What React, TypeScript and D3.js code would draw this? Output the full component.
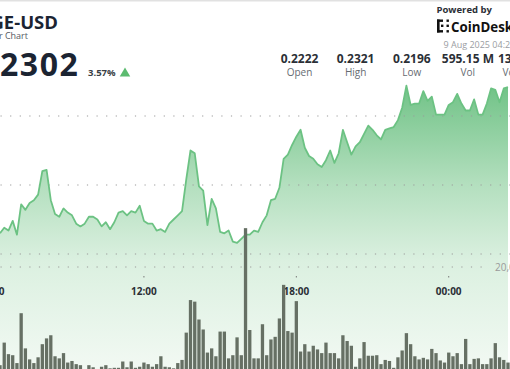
import * as d3 from 'd3';
import React, { useEffect, useRef } from 'react';

const WIDTH = 510;
const HEIGHT = 369;

// 10 minute candles, first visible one at 06:20 UTC
const startTime = Date.UTC(2025, 7, 8, 6, 20);
const stepMs = 10 * 60 * 1000;

const prices = [
  0.2215, 0.2219, 0.2217, 0.2224, 0.2214, 0.2236, 0.2232, 0.2237, 0.2239, 0.2243,
  0.226, 0.2261, 0.2239, 0.2229, 0.2227, 0.2233, 0.223, 0.2228, 0.2222, 0.222,
  0.2222, 0.2227, 0.2227, 0.2225, 0.222, 0.2223, 0.2218, 0.2223, 0.223, 0.2231,
  0.2228, 0.2231, 0.223, 0.2235, 0.2224, 0.2222, 0.2222, 0.2217, 0.2218, 0.2216,
  0.2222, 0.2225, 0.2228, 0.2231, 0.2254, 0.2275, 0.2273, 0.2249, 0.2246, 0.2221,
  0.224, 0.2233, 0.2216, 0.2215, 0.2217, 0.2209, 0.2208, 0.2211, 0.2214, 0.2214,
  0.2217, 0.2216, 0.2223, 0.2228, 0.2239, 0.224, 0.2248, 0.2269, 0.2272, 0.2279,
  0.2285, 0.229, 0.2277, 0.2271, 0.2269, 0.2265, 0.2263, 0.2268, 0.2275, 0.2266,
  0.2273, 0.229, 0.2281, 0.2272, 0.2278, 0.2281, 0.2287, 0.2293, 0.229, 0.2286,
  0.2283, 0.229, 0.2291, 0.2292, 0.2297, 0.2306, 0.2322, 0.2308, 0.2309, 0.2309,
  0.2318, 0.2311, 0.2314, 0.2301, 0.2301, 0.2301, 0.2308, 0.231, 0.2316, 0.2309,
  0.2304, 0.2304, 0.2312, 0.2301, 0.2301, 0.2309, 0.232, 0.2319, 0.231, 0.232,
  0.2321,
];

// volume per candle, millions of DOGE
const volumes = [
  1.3, 5.6, 3.4, 3.2, 1.7, 11.2, 4.5, 2.4, 1.7, 2.8,
  5.3, 6.4, 7.0, 3.0, 2.6, 3.6, 1.8, 2.1, 1.5, 1.3,
  0.3, 1.3, 0.9, 0.3, 1.0, 1.3, 0.7, 0.8, 0.8, 2.0,
  0.9, 2.0, 0.8, 1.0, 1.8, 1.5, 1.0, 1.5, 3.0, 1.0,
  0.9, 0.7, 1.7, 2.3, 7.5, 13.7, 13.4, 10.0, 8.1, 3.7,
  4.5, 3.0, 7.7, 7.7, 2.6, 3.2, 6.6, 3.2, 27.4, 8.0,
  2.6, 2.6, 9.1, 3.2, 6.2, 6.7, 10.2, 16.6, 7.8, 7.5,
  13.5, 3.9, 5.3, 3.9, 5.0, 4.3, 3.6, 5.6, 3.6, 3.6,
  2.6, 7.0, 5.9, 5.0, 1.0, 2.6, 5.7, 3.1, 3.1, 3.2,
  1.5, 2.3, 2.1, 0.8, 2.8, 4.1, 7.4, 5.3, 3.0, 2.4,
  2.7, 2.4, 4.4, 3.6, 2.2, 1.8, 3.7, 3.0, 3.6, 1.5,
  6.3, 1.5, 2.5, 2.6, 1.5, 1.5, 2.6, 5.5, 2.8, 2.3,
  1.8,
];

const priceGrid = [0.22, 0.225, 0.23];
const volumeGrid = [20];
const statValues = ['0.2222', '0.2321', '0.2196', '595.15 M', '132.44 M'];
const statLabels = ['Open', 'High', 'Low', 'Vol', 'Vol (USD)'];

const FONT = "'Open Sans', 'Noto Sans', sans-serif";

export default function App() {
  const svgRef = useRef<SVGSVGElement | null>(null);

  useEffect(() => {
    if (!svgRef.current) return;
    const svg = d3.select(svgRef.current);
    svg.selectAll('*').remove();

    const times = prices.map((_, i) => new Date(startTime + i * stepMs));

    const x = d3
      .scaleUtc()
      .domain([times[0], times[times.length - 1]])
      .range([0, 508]);
    const y = d3.scaleLinear().domain([0.22, 0.23]).range([254, 116]);
    const yVol = d3.scaleLinear().domain([0, 20]).range([372, 267]);

    svg.append('rect').attr('width', WIDTH).attr('height', HEIGHT).attr('fill', '#ffffff');

    const grad = svg
      .append('defs')
      .append('linearGradient')
      .attr('id', 'areaFill')
      .attr('gradientUnits', 'userSpaceOnUse')
      .attr('x1', 0)
      .attr('y1', 84)
      .attr('x2', 0)
      .attr('y2', HEIGHT);
    grad.append('stop').attr('offset', 0).attr('stop-color', '#70c286');
    grad.append('stop').attr('offset', 0.35).attr('stop-color', '#b3dfbe');
    grad.append('stop').attr('offset', 0.62).attr('stop-color', '#dbf0e0');
    grad.append('stop').attr('offset', 1).attr('stop-color', '#f2f9f3');

    // top border of the card
    svg.append('rect').attr('x', 0).attr('y', 0).attr('width', WIDTH).attr('height', 1.5).attr('fill', '#e1e1e1');

    const area = d3
      .area<number>()
      .x((_, i) => x(times[i]))
      .y0(HEIGHT + 5)
      .y1((d) => y(d));

    svg.append('path').datum(prices).attr('d', area).attr('fill', 'url(#areaFill)');

    // dotted grid
    svg
      .selectAll('line.pgrid')
      .data(priceGrid)
      .join('line')
      .attr('class', 'pgrid')
      .attr('x1', 0.5)
      .attr('x2', WIDTH)
      .attr('y1', (d) => y(d))
      .attr('y2', (d) => y(d))
      .attr('stroke', '#9a9a9a')
      .attr('stroke-width', 1.2)
      .attr('stroke-dasharray', '1.2,8.4');

    svg
      .selectAll('line.vgrid')
      .data(volumeGrid)
      .join('line')
      .attr('class', 'vgrid')
      .attr('x1', 0.5)
      .attr('x2', 490)
      .attr('y1', (d) => yVol(d))
      .attr('y2', (d) => yVol(d))
      .attr('stroke', '#9a9a9a')
      .attr('stroke-width', 1.2)
      .attr('stroke-dasharray', '1.2,8.4');

    svg
      .selectAll('text.vlabel')
      .data(volumeGrid)
      .join('text')
      .attr('class', 'vlabel')
      .attr('x', 495)
      .attr('y', (d) => yVol(d) + 3.5)
      .attr('font-family', FONT)
      .attr('font-size', 10)
      .attr('fill', '#9a9a9a')
      .text((d) => d3.format(',')(d * 1e6));

    const line = d3
      .line<number>()
      .x((_, i) => x(times[i]))
      .y((d) => y(d));

    svg
      .append('path')
      .datum(prices)
      .attr('d', line)
      .attr('fill', 'none')
      .attr('stroke', '#6cc283')
      .attr('stroke-width', 1.8)
      .attr('stroke-linejoin', 'round');

    // time axis
    const ticks = d3.utcHour.every(6)!.range(new Date(startTime - 3600e3), times[times.length - 1]);
    const fmt = d3.utcFormat('%H:%M');
    const tg = svg.append('g');
    tg.selectAll('line')
      .data(ticks)
      .join('line')
      .attr('x1', (d) => x(d))
      .attr('x2', (d) => x(d))
      .attr('y1', 276)
      .attr('y2', 277.5)
      .attr('stroke', '#777')
      .attr('stroke-width', 1);
    tg.selectAll('text')
      .data(ticks)
      .join('text')
      .attr('x', (d) => x(d))
      .attr('y', 295)
      .attr('text-anchor', 'middle')
      .attr('font-family', FONT)
      .attr('font-size', 10)
      .attr('font-weight', 700)
      .attr('fill', '#2b2f36')
      .text((d) => fmt(d));

    // volume bars
    svg
      .append('g')
      .selectAll('rect')
      .data(volumes)
      .join('rect')
      .attr('x', (_, i) => x(times[i]) - 1.65)
      .attr('width', 3.3)
      .attr('y', (d) => yVol(d))
      .attr('height', (d) => yVol(0) - yVol(d))
      .attr('fill', '#667064');

    // header
    svg
      .append('text')
      .attr('x', 58)
      .attr('y', 29)
      .attr('text-anchor', 'end')
      .attr('font-family', FONT)
      .attr('font-size', 18.5)
      .attr('font-weight', 700)
      .attr('fill', '#1b2432')
      .text('DOGE-USD');
    svg
      .append('text')
      .attr('x', 28)
      .attr('y', 38.5)
      .attr('text-anchor', 'end')
      .attr('font-family', FONT)
      .attr('font-size', 9)
      .attr('fill', '#555b63')
      .text('Dogecoin US Dollar Chart');
    svg
      .append('text')
      .attr('x', 79.5)
      .attr('y', 76)
      .attr('text-anchor', 'end')
      .attr('font-family', FONT)
      .attr('font-size', 32)
      .attr('font-weight', 700)
      .attr('letter-spacing', 1.6)
      .attr('fill', '#1b2432')
      .text('0.2302');
    svg
      .append('text')
      .attr('x', 88)
      .attr('y', 76)
      .attr('font-family', FONT)
      .attr('font-size', 9.5)
      .attr('font-weight', 700)
      .attr('fill', '#3a3f46')
      .text('3.57%');
    svg
      .append('path')
      .attr('d', d3.symbol(d3.symbolTriangle, 48)())
      .attr('transform', 'translate(125,73.5)')
      .attr('fill', '#5cbb70');

    // stats row
    const sx = d3.scalePoint<string>().domain(statLabels).range([299.5, 524]);
    const sg = svg.append('g');
    sg.selectAll('text.sv')
      .data(statValues)
      .join('text')
      .attr('class', 'sv')
      .attr('x', (_, i) => sx(statLabels[i])!)
      .attr('y', 62.5)
      .attr('text-anchor', 'middle')
      .attr('font-family', FONT)
      .attr('font-size', 12)
      .attr('font-weight', 700)
      .attr('fill', '#2b2f36')
      .text((d) => d);
    sg.selectAll('text.sl')
      .data(statLabels)
      .join('text')
      .attr('class', 'sl')
      .attr('x', (d) => sx(d)!)
      .attr('y', 76)
      .attr('text-anchor', 'middle')
      .attr('font-family', FONT)
      .attr('font-size', 10)
      .attr('fill', '#666b72')
      .text((d) => d);

    // powered by
    svg
      .append('text')
      .attr('x', 436.5)
      .attr('y', 13)
      .attr('font-family', FONT)
      .attr('font-size', 9.5)
      .attr('font-weight', 700)
      .attr('fill', '#2b2f36')
      .text('Powered by');
    const logo = svg.append('g').attr('fill', '#111');
    logo.append('rect').attr('x', 437).attr('y', 19.5).attr('width', 2.6).attr('height', 13);
    logo.append('rect').attr('x', 437).attr('y', 19.5).attr('width', 6).attr('height', 2.4);
    logo.append('rect').attr('x', 437).attr('y', 30.1).attr('width', 6).attr('height', 2.4);
    logo.append('rect').attr('x', 441).attr('y', 24.6).attr('width', 2.4).attr('height', 2.4);
    logo.append('rect').attr('x', 446.5).attr('y', 19.5).attr('width', 2.4).attr('height', 2.4);
    logo.append('rect').attr('x', 446.5).attr('y', 24.6).attr('width', 2.4).attr('height', 2.4);
    logo.append('rect').attr('x', 446.5).attr('y', 30.1).attr('width', 2.4).attr('height', 2.4);
    svg
      .append('text')
      .attr('x', 451)
      .attr('y', 32)
      .attr('font-family', FONT)
      .attr('font-size', 13.3)
      .attr('font-weight', 700)
      .attr('fill', '#111')
      .text('CoinDesk');
    svg
      .append('text')
      .attr('x', 443.5)
      .attr('y', 48)
      .attr('font-family', FONT)
      .attr('font-size', 9)
      .attr('fill', '#9a9da2')
      .text('9 Aug 2025 04:20 UTC');
  }, []);

  return (
    <svg
      ref={svgRef}
      width={WIDTH}
      height={HEIGHT}
      style={{ position: 'absolute', left: 0, top: 0, display: 'block' }}
    />
  );
}
